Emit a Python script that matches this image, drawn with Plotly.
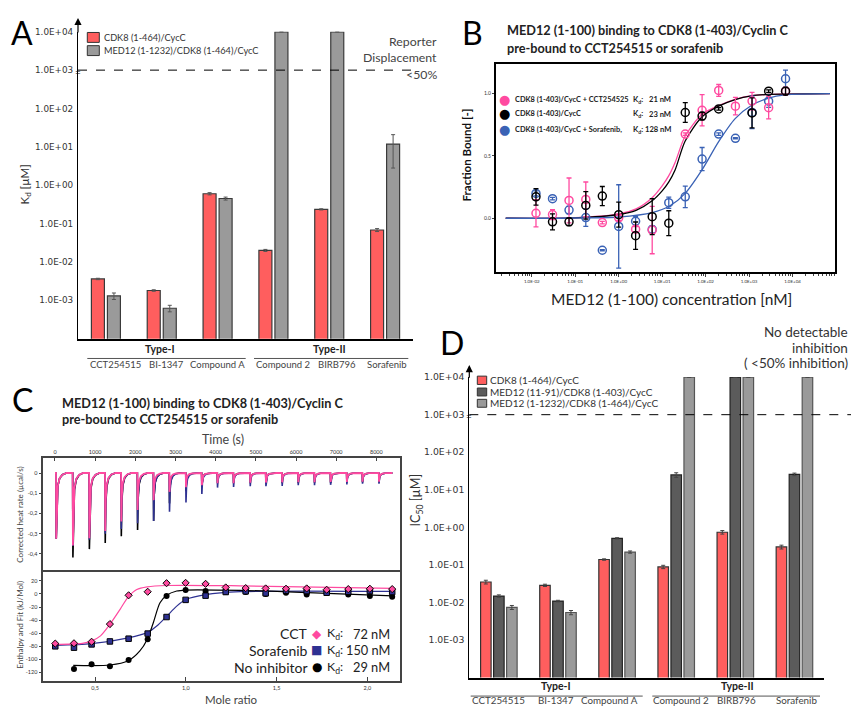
import plotly.graph_objects as go

W, H = 851, 707
FONT = "Lato"
TICKFONT = "DejaVu Sans"


def px(x):
    return x / W


def py(y):
    return 1 - y / H


# ---------------- Panel A data ----------------
a_compounds = ["CCT254515", "BI-1347", "Compound A", "Compound 2", "BIRB796", "Sorafenib"]
a_series = ["CDK8 (1-464)/CycC", "MED12 (1-1232)/CDK8 (1-464)/CycC"]
a_cdk8_kd = [3.6e-3, 1.8e-3, 0.60, 0.020, 0.235, 0.068]
a_cdk8_err = [0.15e-3, 0.08e-3, 0.04, 0.0012, 0.008, 0.006]
a_med12_kd = [1.3e-3, 6.2e-4, 0.45, 1.0e4, 1.0e4, 11.8]
a_med12_err = [0.25e-3, 1.2e-4, 0.04, None, None, 9.0]

log_tick_vals = [1e-3, 1e-2, 1e-1, 1e0, 1e1, 1e2, 1e3, 1e4]
log_tick_text = ["1.0E-03", "1.0E-02", "1.0E-01", "1.0E+00", "1.0E+01", "1.0E+02", "1.0E+03", "1.0E+04"]
threshold = 1e3

# ---------------- Panel B data ----------------
b_conc_nM = [0.0125, 0.030, 0.072, 0.175, 0.42, 1.0, 2.45, 5.9, 14.2, 34, 83, 200, 485, 1170, 2820, 6900]
b_cct = [0.04, 0.03, 0.143, 0.151, -0.035, 0.003, -0.088, -0.095, None, 0.676, 0.867, 1.026, 0.90, 0.941, 0.888, 1.02]
b_cct_err = [0.11, 0.04, 0.18, 0.14, 0.01, 0.02, 0.02, 0.19, None, 0.01, 0.125, 0.048, 0.07, 0.07, 0.09, 0.03]
b_apo = [0.172, -0.029, -0.029, 0.103, 0.178, 0.029, -0.14, 0.013, -0.04, 0.849, 0.82, 0.878, None, 0.846, 1.02, 1.02]
b_apo_err = [0.066, 0.064, 0.03, 0.11, 0.077, 0.10, 0.11, 0.145, 0.10, 0.08, 0.03, 0.01, None, 0.12, 0.01, 0.03]
b_sora = [0.199, 0.157, 0.066, 0.005, -0.257, -0.066, -0.024, -0.09, 0.125, 0.172, 0.475, 0.676, 0.642, 0.85, 0.94, 1.12]
b_sora_err = [0.02, 0.01, 0.03, 0.07, 0.005, 0.335, 0.04, 0.03, 0.045, 0.086, 0.093, 0.01, 0.005, 0.13, 0.05, 0.07]

b_fit_log_conc = [-2.6, -1.0, 0.0, 0.4, 0.77, 1.0, 1.15, 1.3, 1.53, 1.92, 2.3, 2.68, 3.06, 3.45, 4.86]
b_fit_cct = [0.0, 0.004, 0.035, 0.075, 0.165, 0.26, 0.34, 0.45, 0.66, 0.835, 0.905, 0.955, 0.984, 0.994, 1.0]
b_fit_apo = [0.0, 0.003, 0.03, 0.064, 0.14, 0.22, 0.29, 0.39, 0.62, 0.815, 0.90, 0.953, 0.983, 0.994, 1.0]
b_fit_sora_log_conc = [-2.6, -1.0, 0.0, 0.77, 1.18, 1.53, 1.92, 2.3, 2.68, 3.06, 3.45, 3.83, 4.86]
b_fit_sora = [0.0, 0.002, 0.01, 0.045, 0.10, 0.20, 0.39, 0.615, 0.80, 0.907, 0.965, 0.99, 1.0]

b_tick_vals = [1e-2, 1e-1, 1e0, 1e1, 1e2, 1e3, 1e4]
b_tick_text = ["1.0E-02", "1.0E-01", "1.0E+00", "1.0E+01", "1.0E+02", "1.0E+03", "1.0E+04"]

# ---------------- Panel C data ----------------
c_inj_time = [25, 440, 850, 1245, 1645, 2050, 2450, 2845, 3255, 3650, 4040,
              4440, 4855, 5245, 5650, 6050, 6455, 6855, 7260, 7650, 8060]
c_peak_cct = [-0.325, -0.358, -0.322, -0.286, -0.24, -0.183, -0.134, -0.093, -0.07, -0.06, -0.05,
              -0.05, -0.048, -0.047, -0.046, -0.045, -0.045, -0.044, -0.044, -0.043, -0.043]
c_peak_sora = [-0.325, -0.36, -0.33, -0.30, -0.276, -0.248, -0.237, -0.191, -0.146, -0.104, -0.072,
               -0.069, -0.065, -0.065, -0.064, -0.06, -0.06, -0.058, -0.057, -0.053, -0.053]
c_peak_apo = [-0.325, -0.417, -0.376, -0.346, -0.312, -0.281, -0.237, -0.15, -0.09, -0.06, -0.05,
              -0.05, -0.05, -0.05, -0.05, -0.05, -0.048, -0.048, -0.047, -0.046, -0.046]
# shape of one injection peak (time after injection, fraction of depth)
peak_profile_dt = [0, 6, 20, 45, 90, 160, 260]
peak_profile_frac = [0, 1, 0.45, 0.2, 0.08, 0.025, 0]

c_mole_ratio = [0.281, 0.384, 0.481, 0.582, 0.685, 0.79, 0.894, 0.999, 1.109, 1.22,
                1.33, 1.44, 1.552, 1.666, 1.776, 1.895, 2.014, 2.137]
c_dh_cct = [-75.8, -75.3, -73.0, -46.0, -2.0, 3.4, 16.5, 17.0, 15.5, 10.0,
            9.0, 8.5, 8.0, 8.5, 6.5, 7.5, 8.0, 7.5]
c_dh_sora = [-80.0, -82.0, -77.0, -72.5, -68.3, -60.5, -35.2, -9.0, -2.5, 3.0,
             4.0, 1.0, 5.0, 4.4, 1.9, 3.4, 4.4, 3.0]
c_mole_ratio_apo = [0.384, 0.481, 0.582, 0.685, 0.79, 0.894, 0.999, 1.109, 1.22,
                    1.33, 1.44, 1.552, 1.666, 1.776, 1.895, 2.014, 2.137]
c_dh_apo = [-114.8, -107.2, -110.5, -101.0, -69.0, -3.2, 6.2, 4.4, 2.9,
            2.9, 0.0, 1.9, -0.6, 1.4, -0.6, -3.2, -4.2]

c_fit_cct_x = [0.28, 0.43, 0.48, 0.53, 0.583, 0.638, 0.683, 0.73, 0.788, 0.895, 1.3, 2.14]
c_fit_cct_y = [-77, -75.5, -72, -64, -46, -23.5, -4.3, 7, 11, 13, 12.5, 8.5]
c_fit_sora_x = [0.28, 0.48, 0.683, 0.788, 0.84, 0.895, 0.95, 1.0, 1.11, 1.3, 2.14]
c_fit_sora_y = [-78.5, -76, -67, -59, -49, -34, -18.5, -8.5, -1, 3.5, 4]
c_fit_apo_x = [0.38, 0.583, 0.683, 0.747, 0.788, 0.821, 0.858, 0.895, 0.95, 1.0, 1.3, 1.6, 2.14]
c_fit_apo_y = [-109, -108.5, -102, -87, -69, -44, -13.5, -2, 4.5, 6, 5.5, 3, -3]

c_time_ticks = [0, 1000, 2000, 3000, 4000, 5000, 6000, 7000, 8000]
c_heat_ticks = [0, -0.1, -0.2, -0.3, -0.4]
c_heat_text = ["0", "-0,1", "-0,2", "-0,3", "-0,4"]
c_dh_ticks = [20, 0, -20, -40, -60, -80, -100, -120]
c_mr_ticks = [0.5, 1.0, 1.5, 2.0]
c_mr_text = ["0,5", "1,0", "1,5", "2,0"]

# ---------------- Panel D data ----------------
d_series = ["CDK8 (1-464)/CycC", "MED12 (11-91)/CDK8 (1-403)/CycC", "MED12 (1-1232)/CDK8 (1-464)/CycC"]
d_cdk8 = [0.035, 0.0286, 0.139, 0.0885, 0.74, 0.30]
d_cdk8_err = [0.004, 0.002, 0.006, 0.009, 0.08, 0.035]
d_med12s = [0.0148, 0.0109, 0.51, 24.9, 1.0e4, 25.8]
d_med12s_err = [0.0011, 0.0005, 0.02, 3.5, None, 2.0]
d_med12l = [0.0074, 0.0054, 0.22, 1.0e4, 1.0e4, 1.0e4]
d_med12l_err = [0.0009, 0.0007, 0.015, None, None, None]

RED = "#ff5e5e"
GRAY_A = "#9a9a9a"
DARK_D = "#5b5b5b"
LIGHT_D = "#9a9a9a"
PINK = "#ff4aa0"
BLUE_B = "#3a62b5"
NAVY = "#2e3192"
TXT = "#333333"

fig = go.Figure()

# ---------- Panel A bars ----------
fig.add_trace(go.Bar(x=a_compounds, y=a_cdk8_kd, width=0.233, offset=-0.26,
                     marker=dict(color=RED, line=dict(color="#3a3a3a", width=1.2)),
                     error_y=dict(type="data", array=a_cdk8_err, color="#555", thickness=1, width=2),
                     xaxis="x", yaxis="y", name=a_series[0]))
fig.add_trace(go.Bar(x=a_compounds, y=a_med12_kd, width=0.233, offset=0.027,
                     marker=dict(color=GRAY_A, line=dict(color="#3a3a3a", width=1.2)),
                     error_y=dict(type="data", array=a_med12_err, color="#555", thickness=1, width=2),
                     xaxis="x", yaxis="y", name=a_series[1]))

# ---------- Panel B ----------
b_fit_x = [10 ** v for v in b_fit_log_conc]
b_fit_sx = [10 ** v for v in b_fit_sora_log_conc]
for yy, col in [(b_fit_cct, PINK), (b_fit_apo, "#000000")]:
    fig.add_trace(go.Scatter(x=b_fit_x, y=yy, mode="lines", line=dict(color=col, width=1.3, shape="spline", smoothing=0.8),
                             xaxis="x2", yaxis="y2", hoverinfo="skip"))
fig.add_trace(go.Scatter(x=b_fit_sx, y=b_fit_sora, mode="lines", line=dict(color=BLUE_B, width=1.3, shape="spline", smoothing=0.8),
                         xaxis="x2", yaxis="y2", hoverinfo="skip"))
for yy, ee, col in [(b_sora, b_sora_err, BLUE_B), (b_cct, b_cct_err, PINK), (b_apo, b_apo_err, "#000000")]:
    fig.add_trace(go.Scatter(x=b_conc_nM, y=yy, mode="markers",
                             marker=dict(symbol="circle-open", size=8, color=col, line=dict(width=1.5, color=col)),
                             error_y=dict(type="data", array=ee, color=col, thickness=1.3, width=2.5),
                             xaxis="x2", yaxis="y2"))

# ---------- Panel C thermogram ----------
def thermogram(times, peaks):
    xs, ys = [0], [0]
    for t, d in zip(times, peaks):
        for dt, f in zip(peak_profile_dt, peak_profile_frac):
            xs.append(t + dt)
            ys.append(d * f)
    xs.append(8400)
    ys.append(0)
    return xs, ys


for peaks, col, wd in [(c_peak_apo, "#000000", 1.6), (c_peak_sora, NAVY, 1.6), (c_peak_cct, PINK, 1.8)]:
    tx, ty = thermogram(c_inj_time, peaks)
    fig.add_trace(go.Scatter(x=tx, y=ty, mode="lines", line=dict(color=col, width=wd),
                             xaxis="x3", yaxis="y3", hoverinfo="skip"))

# ---------- Panel C isotherm ----------
fig.add_trace(go.Scatter(x=c_fit_sora_x, y=c_fit_sora_y, mode="lines",
                         line=dict(color=NAVY, width=1.2, shape="spline", smoothing=0.8), xaxis="x4", yaxis="y4"))
fig.add_trace(go.Scatter(x=c_fit_apo_x, y=c_fit_apo_y, mode="lines",
                         line=dict(color="#000000", width=1.2, shape="spline", smoothing=0.8), xaxis="x4", yaxis="y4"))
fig.add_trace(go.Scatter(x=c_fit_cct_x, y=c_fit_cct_y, mode="lines",
                         line=dict(color=PINK, width=1.2, shape="spline", smoothing=0.8), xaxis="x4", yaxis="y4"))
fig.add_trace(go.Scatter(x=c_mole_ratio_apo, y=c_dh_apo, mode="markers",
                         marker=dict(symbol="circle", size=6, color="#000000"), xaxis="x4", yaxis="y4"))
fig.add_trace(go.Scatter(x=c_mole_ratio, y=c_dh_sora, mode="markers",
                         marker=dict(symbol="square", size=5.5, color=NAVY, line=dict(color="#000", width=1)),
                         xaxis="x4", yaxis="y4"))
fig.add_trace(go.Scatter(x=c_mole_ratio, y=c_dh_cct, mode="markers",
                         marker=dict(symbol="diamond", size=5.5, color=PINK, line=dict(color="#000", width=1)),
                         xaxis="x4", yaxis="y4"))

# ---------- Panel D bars ----------
for yy, ee, col, lc, off, nm in [(d_cdk8, d_cdk8_err, RED, "#333", -0.309, d_series[0]),
                                  (d_med12s, d_med12s_err, DARK_D, "#222", -0.089, d_series[1]),
                                  (d_med12l, d_med12l_err, LIGHT_D, "#555", 0.131, d_series[2])]:
    fig.add_trace(go.Bar(x=a_compounds, y=yy, width=0.178, offset=off,
                         marker=dict(color=col, line=dict(color=lc, width=1.2)),
                         error_y=dict(type="data", array=ee, color="#444", thickness=1, width=2),
                         xaxis="x5", yaxis="y5", name=nm))

# ---------- axes ----------
axis_common = dict(showgrid=False, zeroline=False, tickfont=dict(family=FONT, color=TXT))
layout_axes = dict(
    xaxis=dict(domain=[px(78), px(413)], range=[-0.5, 5.5], type="category", showticklabels=False, ticks="",
               showline=True, linecolor="#000", linewidth=1.5, anchor="y", **axis_common),
    yaxis=dict(domain=[py(335.5), py(26)], type="log", range=[-4, 4], tickvals=log_tick_vals, ticktext=log_tick_text,
               showline=True, linecolor="#000", linewidth=1.2, ticks="outside", ticklen=2, tickcolor="rgba(0,0,0,0)",
               anchor="x", showgrid=False, zeroline=False, tickfont=dict(family=TICKFONT, size=8.8, color=TXT)),
    xaxis2=dict(domain=[px(495.7), px(834.7)], type="log", range=[-2.83, 4.97], tickvals=b_tick_vals, ticktext=b_tick_text,
                showline=True, mirror=True, linecolor="#000", linewidth=1.5, ticks="outside", ticklen=3,
                minor=dict(ticks="outside", ticklen=2, dtick="D1", showgrid=False),
                anchor="y2", showgrid=False, zeroline=False, tickfont=dict(family=FONT, size=4.5, color=TXT)),
    yaxis2=dict(domain=[py(268.7), py(58.3)], range=[-0.435, 1.24], tickvals=[0, 0.5, 1.0], ticktext=["0.0", "0.5", "1.0"],
                showline=True, mirror=True, linecolor="#000", linewidth=1.5, ticks="outside", ticklen=2,
                anchor="x2", showgrid=False, zeroline=False, tickfont=dict(family=FONT, size=5, color=TXT)),
    xaxis3=dict(domain=[px(43.3), px(400)], range=[-291, 8589], side="top", tickvals=c_time_ticks,
                ticktext=[str(v) for v in c_time_ticks], showline=True, mirror=True, linecolor="#444", linewidth=1.5,
                ticks="inside", ticklen=3, anchor="y3", showgrid=False, zeroline=False,
                tickfont=dict(family=FONT, size=5.5, color=TXT)),
    yaxis3=dict(domain=[py(569), py(456.3)], range=[-0.48, 0.072], tickvals=c_heat_ticks, ticktext=c_heat_text,
                showline=True, mirror=True, linecolor="#444", linewidth=1.5, ticks="outside", ticklen=3,
                anchor="x3", showgrid=False, zeroline=False, tickfont=dict(family=FONT, size=5.5, color=TXT)),
    xaxis4=dict(domain=[px(43.3), px(400)], range=[0.215, 2.18], tickvals=c_mr_ticks, ticktext=c_mr_text,
                showline=True, mirror=False, linecolor="#444", linewidth=1.5, ticks="inside", ticklen=4,
                anchor="y4", showgrid=False, zeroline=False, tickfont=dict(family=FONT, size=5.5, color=TXT)),
    yaxis4=dict(domain=[py(681), py(569)], range=[-133.3, 36.4], tickvals=c_dh_ticks,
                ticktext=[str(v) for v in c_dh_ticks], showline=True, mirror=True, linecolor="#444", linewidth=1.5,
                ticks="outside", ticklen=3, anchor="x4", showgrid=False, zeroline=False,
                tickfont=dict(family=FONT, size=5.5, color=TXT)),
    xaxis5=dict(domain=[px(469.3), px(824)], range=[-0.5, 5.5], type="category", showticklabels=False, ticks="",
                showline=True, linecolor="#000", linewidth=1.5, anchor="y5", **axis_common),
    yaxis5=dict(domain=[py(677.3), py(374.3)], type="log", range=[-4, 4], tickvals=log_tick_vals, ticktext=log_tick_text,
                showline=True, linecolor="#000", linewidth=1.2, ticks="outside", ticklen=2, tickcolor="rgba(0,0,0,0)",
                anchor="x5", showgrid=False, zeroline=False, tickfont=dict(family=TICKFONT, size=9.3, color=TXT)),
)

# ---------- annotations ----------
anns = []


def ann(text, x, y, size, color=TXT, xanchor="center", yanchor="middle", angle=0, family=FONT):
    anns.append(dict(text=text, x=px(x), y=py(y), xref="paper", yref="paper", xanchor=xanchor, yanchor=yanchor,
                     showarrow=False, textangle=angle, font=dict(family=family, size=size, color=color)))


# panel letters
for letter, lx, ly in [("A", 21.7, 27), ("B", 472.8, 27), ("C", 22, 397), ("D", 451.7, 339)]:
    ann(letter, lx, ly, 32, color="#000")

# Panel A texts
ann(a_series[0], 101.7, 31.3, 9.2, xanchor="left")
ann(a_series[1], 101.7, 45, 9.2, xanchor="left")
ann("Reporter", 439, 36, 12.3, color="#444", xanchor="right")
ann("Displacement", 439, 52, 12.3, color="#444", xanchor="right")
ann("<50%", 439, 69, 12.3, color="#444", xanchor="right")
ann("K<sub>d</sub> [µM]", 25, 180, 11.5, angle=-90)
a_label_x = [116, 166, 217.7, 282.7, 336.7, 386.7]
for lab, lx in zip(a_compounds, a_label_x):
    ann(lab, lx, 362, 9.5, color="#444")
ann("<b>Type-I</b>", 160, 346, 10.5, color="#222")
ann("<b>Type-II</b>", 329.3, 345.5, 10.5, color="#222")
ann("=", 78, 66.5, 10, color="#000")

# Panel B texts
ann("<b>MED12 (1-100) binding to CDK8 (1-403)/Cyclin C</b>", 505, 24, 12.7, color="#222", xanchor="left")
ann("<b>pre-bound to CCT254515 or sorafenib</b>", 505, 42, 12.7, color="#222", xanchor="left")
ann("<b>Fraction Bound [-]</b>", 466.7, 150, 11.5, color="#111", angle=-90)
ann("MED12 (1-100) concentration [nM]", 671.7, 296, 15.5, color="#222")
b_leg = [("CDK8 (1-403)/CycC + CCT254525", "21 nM", PINK, 94.3),
         ("CDK8 (1-403)/CycC", "23 nM", "#000000", 108.8),
         ("CDK8 (1-403)/CycC + Sorafenib,", "128 nM", BLUE_B, 124.3)]
for lab, kd, col, ly in b_leg:
    ann("●", 504, ly, 13, color=col, family="DejaVu Sans")
    ann("<b>" + lab + "</b>", 512.7, ly, 7.4, color="#222", xanchor="left")
    ann("<b>K<sub>d</sub>:</b>", 631, ly, 7.6, color="#222", xanchor="left")
    ann("<b>" + kd + "</b>", 673, ly, 7.6, color="#222", xanchor="right")

# Panel C texts
ann("<b>MED12 (1-100) binding to CDK8 (1-403)/Cyclin C</b>", 60, 400, 12.7, color="#222", xanchor="left")
ann("<b>pre-bound to CCT254515 or sorafenib</b>", 60, 417, 12.7, color="#222", xanchor="left")
ann("Time (s)", 223.3, 437.3, 12.5, color="#444")
ann("Mole ratio", 231.7, 699.3, 11.5, color="#444")
ann("Corrected heat rate (µcal/s)", 20, 513, 8, color="#444", angle=-90)
ann("Enthalpy and Fit (kJ/Mol)", 20, 624, 8, color="#444", angle=-90)
c_leg = [("CCT", "◆", PINK, "72 nM", 633.3), ("Sorafenib", "■", NAVY, "150 nM", 650), ("No inhibitor", "●", "#000000", "29 nM", 666.7)]
for lab, sym, col, kd, ly in c_leg:
    ann(lab, 310, ly, 14, color="#222", xanchor="right")
    ann(sym, 316.7, ly, 12, color=col, family="DejaVu Sans")
    ann("K<sub>d</sub>:", 325, ly, 12.3, color="#222", xanchor="left")
    ann(kd, 392, ly, 12.8, color="#222", xanchor="right")

# Panel D texts
ann("No detectable", 850, 329, 13.5, color="#333", xanchor="right")
ann("inhibition", 850, 344.5, 13.5, color="#333", xanchor="right")
ann("( <50% inhibition)", 850, 360, 13.5, color="#333", xanchor="right")
for lab, ly in zip(d_series, [377.3, 389.3, 400.7]):
    ann(lab, 487.7, ly, 10, xanchor="left")
ann("IC<sub>50</sub> [µM]", 416.7, 498, 12.5, angle=-90)
d_label_x = [498.3, 555.7, 609, 681, 736.7, 796]
for lab, lx in zip(a_compounds, d_label_x):
    ann(lab, lx, 700.3, 9.8, color="#444")
ann("<b>Type-I</b>", 556, 685.7, 10.5, color="#222")
ann("<b>Type-II</b>", 737.3, 685.7, 10.5, color="#222")
ann("=", 469.3, 414, 10, color="#000")

# axis arrows
for axx, ytop, ybase in [(78, 12, 26), (469.3, 362, 374.3)]:
    anns.append(dict(x=px(axx), y=py(ytop), xref="paper", yref="paper", ax=0, ay=ybase + 2 - ytop,
                     axref="pixel", ayref="pixel", text="", showarrow=True, arrowhead=2, arrowsize=1.2,
                     arrowwidth=1.2, arrowcolor="#000"))

# ---------- shapes ----------
shapes = [
    dict(type="line", xref="paper", yref="y", x0=px(78), x1=px(411), y0=threshold, y1=threshold,
         line=dict(color="#000", width=1, dash="dash")),
    dict(type="line", xref="paper", yref="y5", x0=px(469.3), x1=px(851), y0=threshold, y1=threshold,
         line=dict(color="#000", width=1, dash="dash")),
    dict(type="line", xref="paper", yref="paper", x0=px(87.3), x1=px(245.7), y0=py(355.5), y1=py(355.5),
         line=dict(color="#555", width=1)),
    dict(type="line", xref="paper", yref="paper", x0=px(254), x1=px(408.3), y0=py(355.5), y1=py(355.5),
         line=dict(color="#555", width=1)),
    dict(type="line", xref="paper", yref="paper", x0=px(470.7), x1=px(642.7), y0=py(696), y1=py(696),
         line=dict(color="#555", width=1)),
    dict(type="line", xref="paper", yref="paper", x0=px(652.3), x1=px(820), y0=py(696), y1=py(696),
         line=dict(color="#555", width=1)),
]
# legend swatches
for col, y0, y1 in [(RED, 26.7, 36.7), (GRAY_A, 40, 50)]:
    shapes.append(dict(type="rect", xref="paper", yref="paper", x0=px(87.3), x1=px(99.3), y0=py(y1), y1=py(y0),
                       fillcolor=col, line=dict(color="#333", width=1)))
for col, y0, y1 in [(RED, 373.3, 381.7), (DARK_D, 385.3, 393.3), (LIGHT_D, 396.7, 404.7)]:
    shapes.append(dict(type="rect", xref="paper", yref="paper", x0=px(477.3), x1=px(486.7), y0=py(y1), y1=py(y0),
                       fillcolor=col, line=dict(color="#333", width=1)))

fig.update_layout(
    width=W, height=H, margin=dict(l=0, r=0, t=0, b=0), autosize=False,
    paper_bgcolor="white", plot_bgcolor="white", showlegend=False, barmode="overlay",
    font=dict(family=FONT, color=TXT), annotations=anns, shapes=shapes, **layout_axes)

fig.write_html("out.html", config={"displayModeBar": False},
               post_script="document.body.style.margin='0';document.body.style.padding='0';"
                           "document.body.style.overflow='hidden';")
